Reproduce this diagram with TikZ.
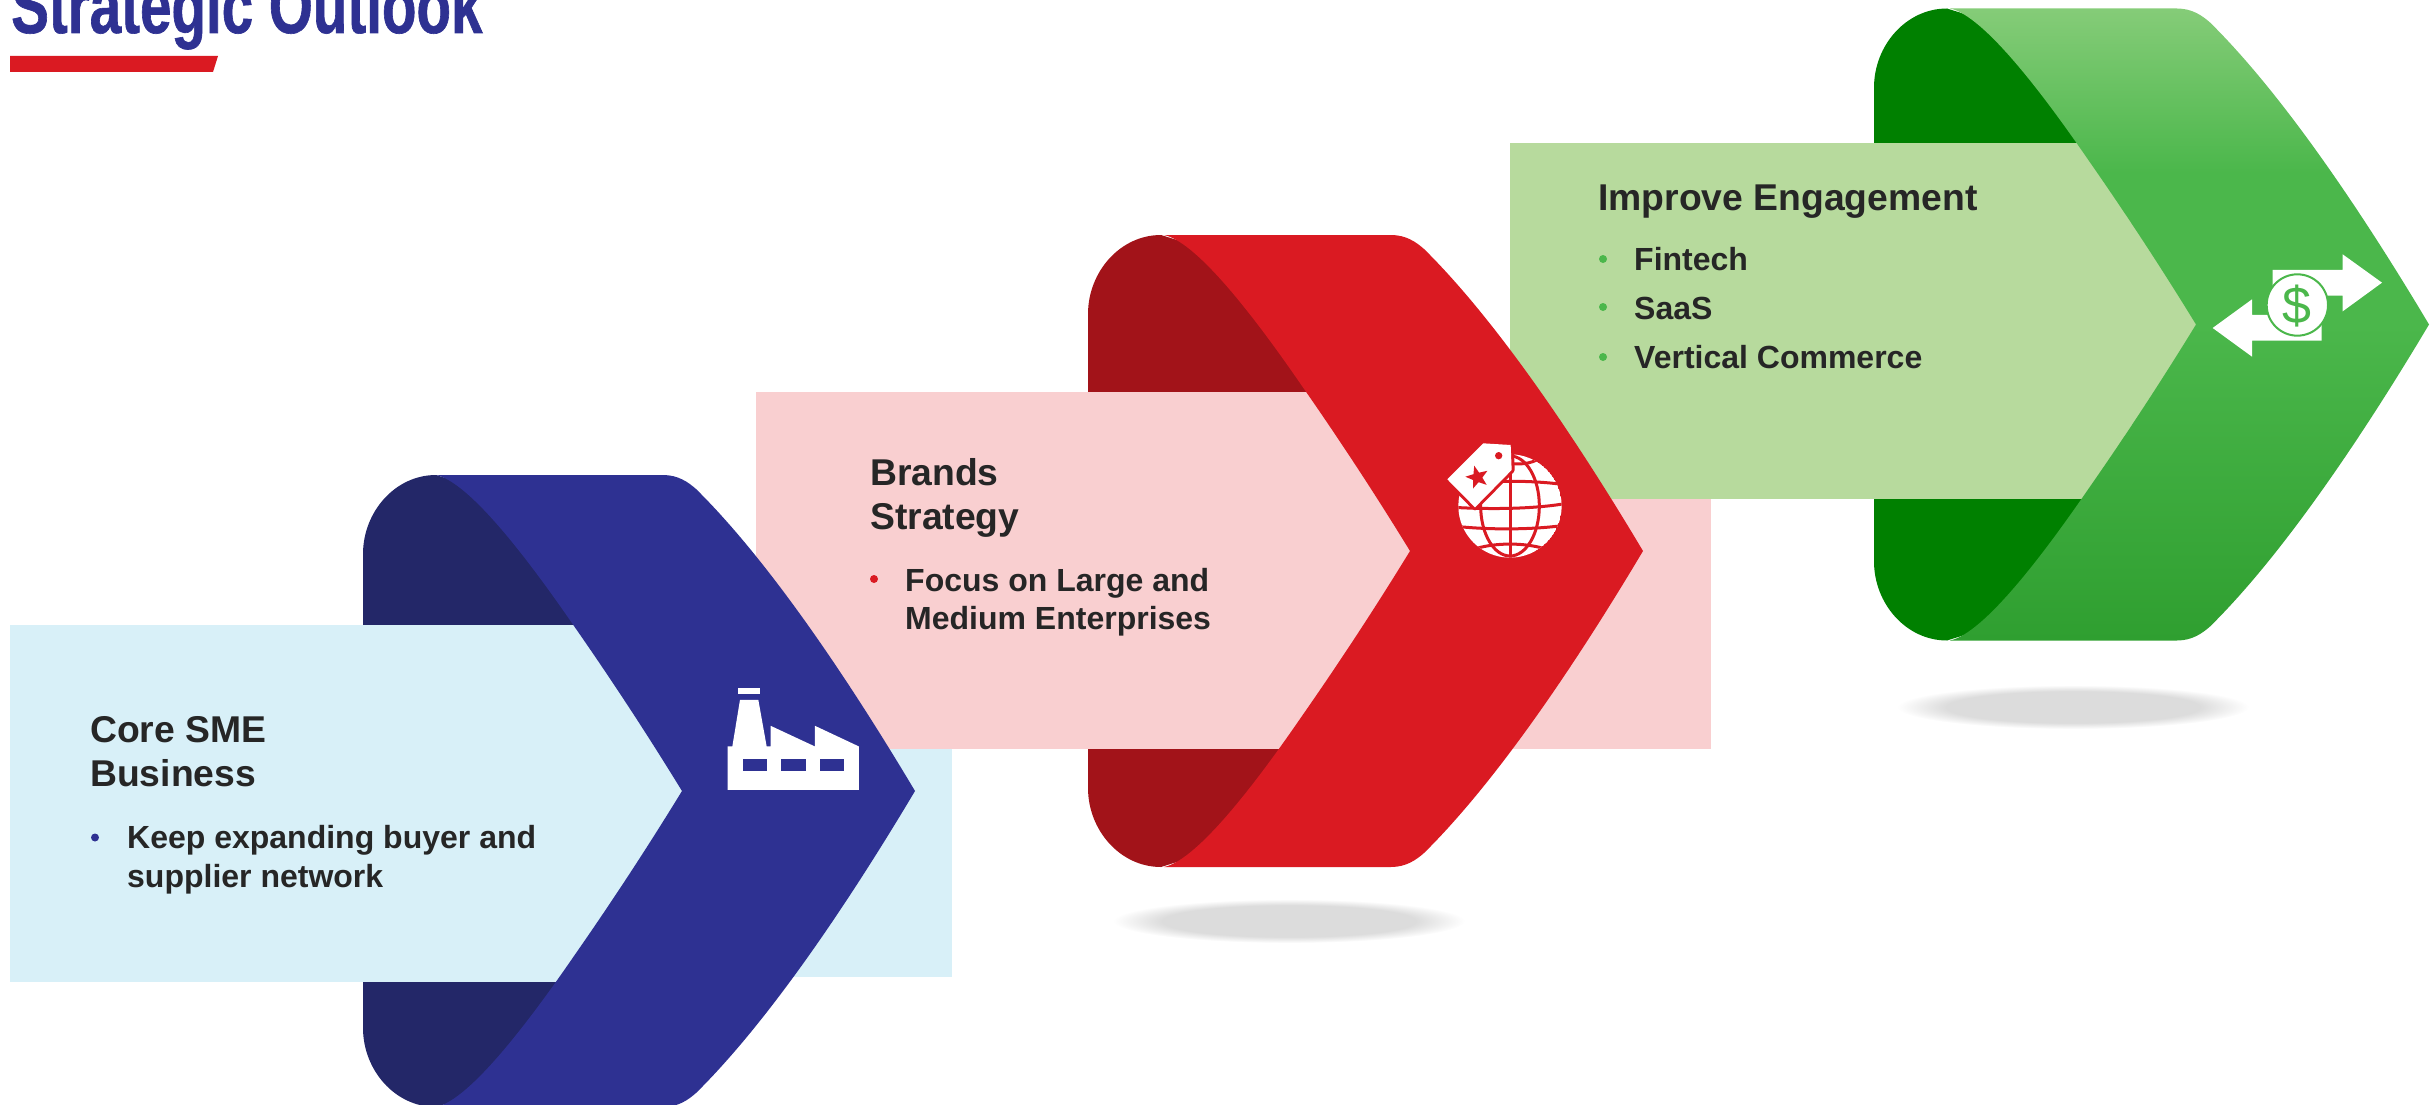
\documentclass[tikz,border=0pt]{standalone}
\usepackage{fontspec}
\setmainfont{Liberation Sans}
\newfontfamily\titlefont[FakeStretch=0.725, FakeBold=0.8]{Liberation Sans}
\usetikzlibrary{shapes.geometric}
\usetikzlibrary{positioning}

\definecolor{bluefront}{HTML}{2E3192}
\definecolor{blueback}{HTML}{232768}
\definecolor{bluepale}{HTML}{D8F0F8}
\definecolor{redfront}{HTML}{DA1A22}
\definecolor{redback}{HTML}{A21319}
\definecolor{redpale}{HTML}{F9CFD0}
\definecolor{greenmid}{HTML}{4BB74B}
\definecolor{greenback}{HTML}{008000}
\definecolor{greenpale}{HTML}{B7DA9D}
\definecolor{greentop}{HTML}{85CC78}
\definecolor{greenlow}{HTML}{2F9F30}
\definecolor{inktext}{HTML}{262626}
\definecolor{shadowgray}{HTML}{DCDCDC}

\pgfdeclareradialshading{softshadow}{\pgfpointorigin}{color(0bp)=(shadowgray); color(18bp)=(shadowgray); color(25bp)=(white); color(50bp)=(white)}
\pgfdeclareverticalshading{greenband}{100bp}{color(0bp)=(greenlow); color(25bp)=(greenlow); color(50bp)=(greenmid); color(62bp)=(greenmid); color(75bp)=(greentop); color(100bp)=(greentop)}

\tikzstyle{headtext} = [anchor=north west, inner sep=0pt, align=left, text=inktext, font=\bfseries\fontsize{37.3}{44}\selectfont]
\tikzstyle{bodytext} = [anchor=north west, inner sep=0pt, align=left, text=inktext, font=\bfseries\fontsize{32}{38.5}\selectfont]
\tikzstyle{dot} = [circle, inner sep=0pt, minimum size=8pt]
\tikzstyle{greenshade} = [shade, shading=greenband]

% back of the ribbon, #1 shift from the blue one
\newcommand{\ribbonback}[2]{
    \fill [#2, shift={#1}] (436,473) .. controls (395,473) and (363,510) .. (363,552) -- (363,1026) .. controls (363,1068) and (395,1105) .. (436,1105) -- (500,1085) -- (600,1000) -- (600,578) -- (500,493) -- cycle;
}
\newcommand{\ribbonfront}[2]{
    \path [#2, shift={#1}] (436,473) -- (663,473) .. controls (678,473) and (688,480) .. (696,487)
        .. controls (770,560) and (850,680) .. (915,789)
        .. controls (850,898) and (770,1018) .. (696,1091)
        .. controls (688,1098) and (678,1105) .. (663,1105) -- (436,1105)
        .. controls (470,1098) and (530,1018) .. (574,954)
        .. controls (620,888) and (655,833) .. (682,789)
        .. controls (655,745) and (620,690) .. (574,624)
        .. controls (530,560) and (470,480) .. (436,473) -- cycle;
}

\begin{document}
\begin{tikzpicture}[x=1pt, y=-1pt]

    \useasboundingbox (0,0) rectangle (2435,1105);
    \clip (0,0) rectangle (2435,1105);

    \node (title) [anchor=base west, inner sep=0pt, text=bluefront, font=\titlefont\bfseries\fontsize{78}{80}\selectfont] at (11,33) {Strategic Outlook};
    \fill [redfront] (10,56) -- (218,56) -- (213,72) -- (10,72) -- cycle;

    \shade [shading=softshadow] (1289,921) ellipse [x radius=176, y radius=22];
    \shade [shading=softshadow] (2073,707) ellipse [x radius=176, y radius=22];

    \fill [bluepale] (10,625) rectangle (952,977);
    \fill [redpale] (756,391.5) rectangle (1711,749);

    % drawn from the last ribbon back to the first
    \ribbonback{(1511,-464.5)}{greenback}
    \fill [greenpale] (1510,143) rectangle (2205,499);
    \ribbonfront{(1514,-464.5)}{greenshade}

    \ribbonback{(725,-238)}{redback}
    \fill [redpale] (756,391.5) rectangle (1415,749);
    \ribbonfront{(728,-238)}{fill=redfront}

    \ribbonback{(0,2)}{blueback}
    \fill [bluepale] (10,625) rectangle (700,982);
    \ribbonfront{(0,2)}{fill=bluefront}

    % factory
    \begin{scope}[shift={(690,621.5)}, x=0.3333pt, y=-0.3333pt]
        \fill [white] (113,505) -- (113,375) -- (127,375) -- (150,235) -- (205,235) -- (230,375) -- (242,375) -- (242,313) -- (375,375) -- (375,313) -- (507,375) -- (507,505) -- cycle;
        \fill [white] (144,198) rectangle (210,219);
        \fill [bluefront] (158,414) rectangle (232,448);
        \fill [bluefront] (274,414) rectangle (347,448);
        \fill [bluefront] (389,414) rectangle (462,448);
    \end{scope}

    % globe and price tag
    \begin{scope}[shift={(1420,420)}, x=0.3333pt, y=-0.3333pt]
        \begin{scope}
            \clip (270,258) circle [radius=155];
            \fill [white] (270,258) circle [radius=155];
            \draw [redfront, line width=3pt] (270,100) -- (270,420);
            \draw [redfront, line width=3pt] (270,258) ellipse [x radius=88, y radius=150];
            \draw [redfront, line width=3pt] (100,195) .. controls (200,180) and (340,180) .. (440,195);
            \draw [redfront, line width=3pt] (100,262) .. controls (200,268) and (340,268) .. (440,250);
            \draw [redfront, line width=3pt] (100,318) .. controls (200,330) and (340,330) .. (440,315);
            \draw [redfront, line width=3pt] (170,385) .. controls (230,368) and (310,368) .. (370,385);
            \draw [redfront, line width=3pt] (240,125) .. controls (280,135) and (320,135) .. (350,120);
        \end{scope}
        \draw [redfront, line width=6pt, line join=round] (190,70) -- (272,75) -- (275,150) -- (165,262) -- (82,178) -- cycle;
        \fill [white] (190,70) -- (272,75) -- (275,150) -- (165,262) -- (82,178) -- cycle;
        \fill [redfront] (236,107) circle [radius=11];
        \node (tagstar) [star, star points=5, star point ratio=2.4, fill=redfront, inner sep=0pt, minimum size=24pt, rotate=15] at (172,172) {};
    \end{scope}

    % money arrows
    \begin{scope}[shift={(2190,240)}, x=0.3333pt, y=-0.3333pt]
        \fill [white] (248,128) -- (248,90) -- (458,90) -- (458,43) -- (576,128) -- (458,214) -- (458,167) -- (248,167) -- cycle;
        \fill [white] (395,264) -- (395,302) -- (186,302) -- (186,350) -- (68,264) -- (186,178) -- (186,225) -- (395,225) -- cycle;
        \filldraw [fill=white, draw=greenmid, line width=2pt] (322,195) circle [radius=92];
        \node (dollar) [inner sep=0pt, text=greenmid, font=\fontsize{52}{52}\selectfont] at (322,199) {\$};
    \end{scope}

    % first step
    \node (coretitle) [headtext] at (90,716.5) {Core SME\\Business};
    \node (coredot) [dot, fill=bluefront] at (95,837.5) {};
    \node (corebody) [bodytext] at (127,825.5) {Keep expanding buyer and\\supplier network};

    % second step
    \node (brandstitle) [headtext] at (870,458) {Brands\\Strategy};
    \node (brandsdot) [dot, fill=redfront] at (874,579) {};
    \node (brandsbody) [bodytext] at (905,568) {Focus on Large and\\Medium Enterprises};

    % third step
    \node (engagetitle) [headtext] at (1598,184.5) {Improve Engagement};
    \node (fintechdot) [dot, fill=greenmid] at (1603,259) {};
    \node (fintech) [bodytext] at (1634,247) {Fintech};
    \node (saasdot) [dot, fill=greenmid] at (1603,307) {};
    \node (saas) [bodytext] at (1634,296.5) {SaaS};
    \node (verticaldot) [dot, fill=greenmid] at (1603,357) {};
    \node (vertical) [bodytext] at (1634,345) {Vertical Commerce};

\end{tikzpicture}
\end{document}
